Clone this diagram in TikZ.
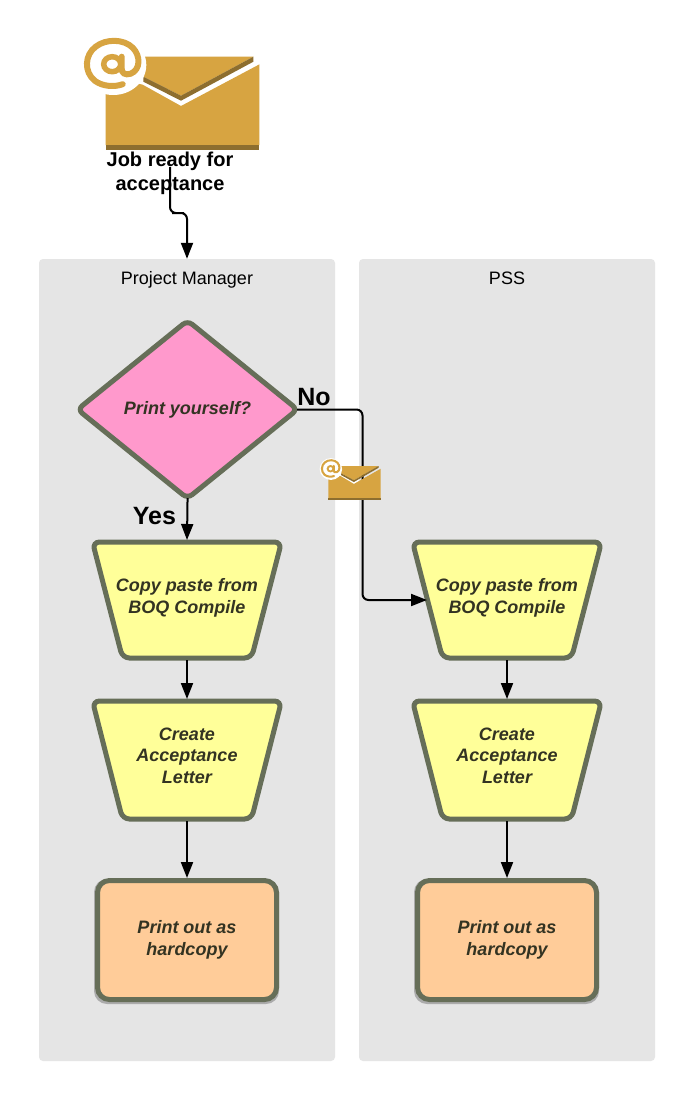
\documentclass[tikz,border=0pt]{standalone}
\usepackage{fontspec}
\setmainfont{Liberation Sans}
\usetikzlibrary{arrows.meta,shapes.geometric}
\definecolor{lanegrey}{HTML}{E5E5E5}
\definecolor{strokeg}{HTML}{666E58}
\definecolor{mailgold}{HTML}{D7A441}
\definecolor{maildark}{HTML}{8D6E2F}
\definecolor{qpink}{HTML}{FF99CC}
\definecolor{tyellow}{HTML}{FFFF99}
\definecolor{porange}{HTML}{FFCC99}
\definecolor{inktext}{HTML}{333322}
\newcommand{\nudge}[1]{\\[#1]\mbox{}}
\tikzset{
  lane/.style={rectangle,rounded corners=4pt,fill=lanegrey,minimum width=296pt,minimum height=802pt,inner sep=0pt,draw=none},
  lanetitle/.style={font=\fontsize{18}{20}\selectfont,text=black,inner sep=0pt,anchor=base},
  flowtext/.style={font=\fontsize{18}{21.5}\selectfont\bfseries\itshape,text=inktext,align=center},
  decision/.style={diamond,draw=strokeg,fill=qpink,line width=5pt,rounded corners=6pt,minimum width=222pt,minimum height=180pt,inner sep=0pt,flowtext},
  manualshape/.style={draw=strokeg,fill=tyellow,line width=5pt,rounded corners=7pt},
  manual/.style={rectangle,minimum width=160pt,inner sep=0pt,outer sep=0pt,flowtext},
  hardcopy/.style={rectangle,draw=strokeg,fill=porange,line width=5pt,rounded corners=12pt,minimum width=179pt,minimum height=119pt,inner sep=0pt,flowtext},
  hardshadow/.style={rectangle,fill=black,opacity=0.25,rounded corners=13pt,minimum width=185pt,minimum height=125pt,inner sep=0pt},
  flow/.style={draw=black,line width=2pt,rounded corners=6pt,-{Triangle[length=16pt,width=12pt]}},
  fromtip/.style={shorten <=-4pt},
  biglabel/.style={font=\fontsize{25}{30}\selectfont\bfseries,text=black,inner sep=0pt},
  joblabel/.style={font=\fontsize{20}{24}\selectfont\bfseries,text=black,align=center,inner sep=0pt},
}
% name, cx, top, bottom, text
\newcommand{\manualnode}[5]{%
  \path[manualshape] (#2-94.5,#3+2) -- (#2+94.5,#3+2) -- (#2+64.5,#4-2) -- (#2-64.5,#4-2) -- cycle;
  \node[manual,minimum height=#4pt-#3pt] (#1) at (#2,#3/2+#4/2) {#5};}
\newcommand{\mailicon}[4]{%
  \begin{scope}[shift={(#1,#2)},xscale=#3,yscale=#4]
    \fill[mailgold] (37.7,0) -- (147.7,0) -- (75.3,39) -- (37.7,20) -- cycle;
    \fill[maildark] (37.7,20) -- (75.3,39) -- (147.7,0) -- (147.7,5) -- (75.3,44) -- (37.7,25) -- cycle;
    \fill[mailgold] (0,20) -- (37,28) -- (75.3,49.3) -- (153.6,7.7) -- (153.6,88.3) -- (0,88.3) -- cycle;
    \fill[maildark] (0,88.3) rectangle (153.6,93.3);
    \fill[white] (7.6,8.3) circle[x radius=33,y radius=30];
    \draw[mailgold,line width=#3*6pt,line cap=round] (17,27.5) .. controls (9,30.5) and (-3,30) .. (-11,24) .. controls (-22,15) and (-21,-2) .. (-10,-10) .. controls (0,-18) and (18,-18) .. (27,-9) .. controls (35,-1) and (35,13) .. (25,17) .. controls (19,19) and (16,16) .. (16,12) -- (16,0);
    \draw[mailgold,line width=#3*5.5pt] (6.5,7.5) circle[x radius=8.5,y radius=7.5];
    \draw[mailgold,line width=#3*5pt] (16,-1) -- (16,13);
  \end{scope}}
\begin{document}
\begin{tikzpicture}[x=1pt,y=-1pt]
  \useasboundingbox (0,0) rectangle (694,1100);
  \fill[white] (0,0) rectangle (694,1100);

  \node[lane] (pm) at (187,660) {};
  \node[lane] (pss) at (507,660) {};
  \node[lanetitle] (pmt) at (187,284) {Project Manager};
  \node[lanetitle] (psst) at (507,284) {PSS};

  \mailicon{105.7}{56.7}{1}{1}
  \node[joblabel] (job) at (170,173) {Job ready for\\acceptance};

  \node[decision] (q) at (187.5,409.5) {Print yourself?};
  \manualnode{a1}{187}{540}{660}{Copy paste from\\BOQ Compile\nudge{-13.5pt}}
  \manualnode{a2}{187}{699}{821}{Create\\Acceptance\\Letter\nudge{-12pt}}
  \node[hardshadow] (s1) at (186.5,941.5) {};
  \node[hardcopy] (p1) at (187,940) {Print out as\\hardcopy};
  \manualnode{b1}{507}{540}{660}{Copy paste from\\BOQ Compile\nudge{-13.5pt}}
  \manualnode{b2}{507}{699}{821}{Create\\Acceptance\\Letter\nudge{-12pt}}
  \node[hardshadow] (s2) at (506.5,941.5) {};
  \node[hardcopy] (p2) at (507,940) {Print out as\\hardcopy};

  \node[biglabel] (no) at (314,397) {No};
  \node[biglabel] (yes) at (154.5,516.5) {Yes};

  \coordinate (jobstart) at (170,167);
  \coordinate (jobkink) at (178,213);
  \coordinate (nobend) at (362.5,500);
  \draw[flow] (jobstart) |- (jobkink) -| (pm.north);
  \draw[flow,fromtip] (q.east) -| (nobend) |- (b1.west);
  \draw[flow,fromtip] (q.south) -- (a1.north);
  \draw[flow] (a1.south) -- (a2.north);
  \draw[flow] (a2.south) -- (p1.north);
  \draw[flow] (b1.south) -- (b2.north);
  \draw[flow] (b2.south) -- (p2.north);

  \mailicon{328.3}{466}{0.34}{0.364}
\end{tikzpicture}
\end{document}
